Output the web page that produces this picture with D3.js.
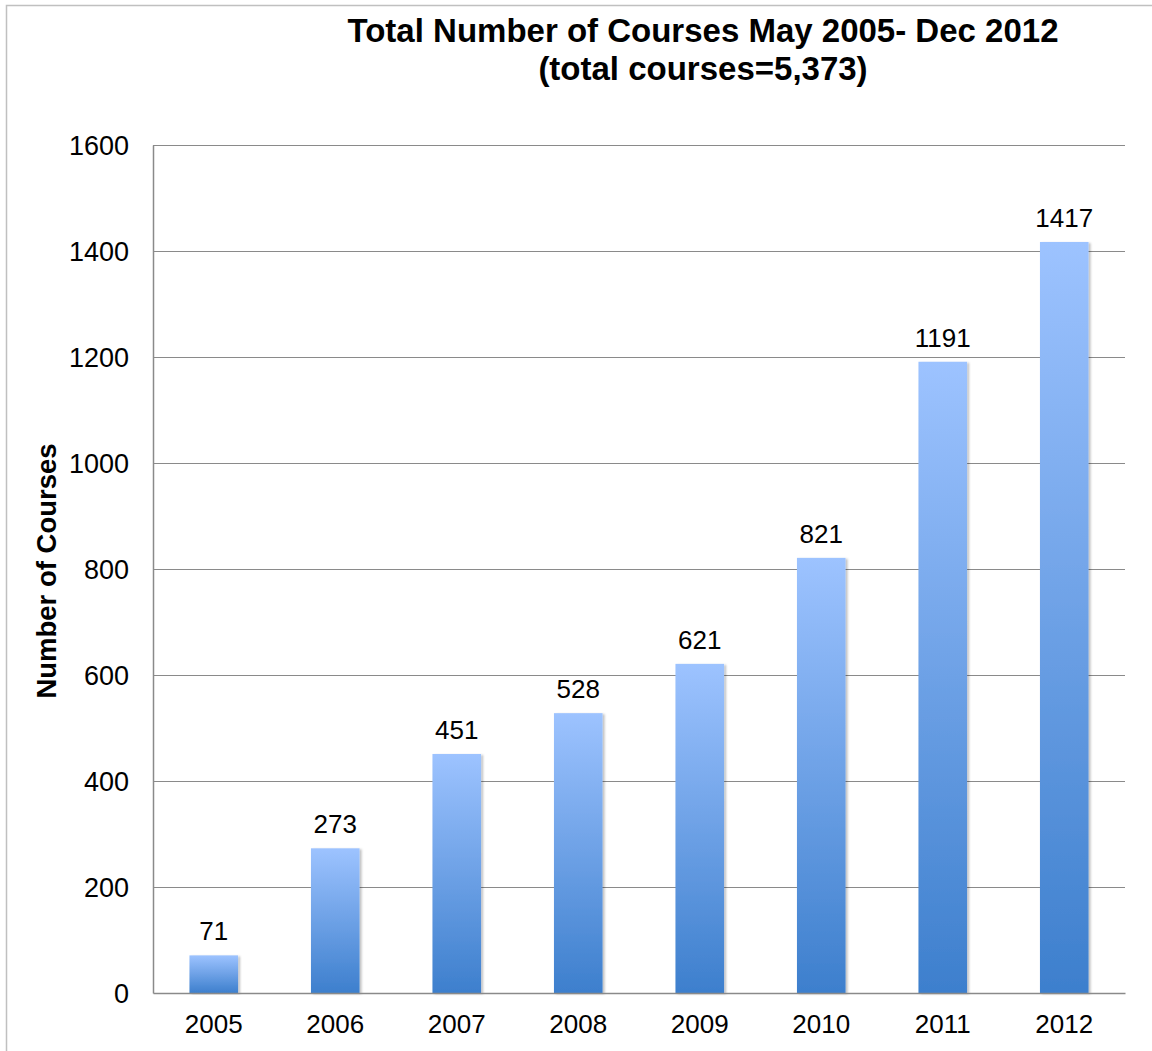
<!DOCTYPE html>
<html><head><meta charset="utf-8">
<script src="https://cdn.jsdelivr.net/npm/d3@7"></script>
<style>body{margin:0;background:#fff}svg{display:block}text{font-family:"Liberation Sans",Arial,sans-serif;fill:#000}</style>
</head><body>
<script>
const years = ["2005","2006","2007","2008","2009","2010","2011","2012"];
const courses = [71,273,451,528,621,821,1191,1417];
const yTicks = [0,200,400,600,800,1000,1200,1400,1600];
const titleLines = ["Total Number of Courses May 2005- Dec 2012","(total courses=5,373)"];
const yLabel = "Number of Courses";

const W=1152,H=1051;
const m={left:153,right:1125,top:145,bottom:993};
const svg=d3.select("body").append("svg").attr("width",W).attr("height",H);
const defs=svg.append("defs");
const g=defs.append("linearGradient").attr("id","bg").attr("x1",0).attr("y1",0).attr("x2",0).attr("y2",1);
g.append("stop").attr("offset","0%").attr("stop-color","#9dc3ff");
g.append("stop").attr("offset","100%").attr("stop-color","#3d7fcd");
const f=defs.append("filter").attr("id","sh").attr("x","-20%").attr("y","-5%").attr("width","150%").attr("height","110%");
f.append("feDropShadow").attr("dx",2).attr("dy",1).attr("stdDeviation",1.2).attr("flood-color","#000").attr("flood-opacity",0.25);

// frame
svg.append("path").attr("d",`M6.5,${H} V5.5 H${W}`).attr("fill","none").attr("stroke","#c0c0c0").attr("stroke-width",1.5);

const x=d3.scaleBand().domain(years).range([m.left,m.right]).paddingInner(0.6).paddingOuter(0.3);
const y=d3.scaleLinear().domain([0,1600]).range([m.bottom,m.top]);

// grid
svg.append("g").selectAll("line").data(yTicks.filter(d=>d>0)).join("line")
 .attr("x1",m.left).attr("x2",m.right).attr("y1",d=>y(d)+0.5).attr("y2",d=>y(d)+0.5)
 .attr("stroke","#8a8a8a").attr("stroke-width",1);

// y axis
const ya=svg.append("g").attr("transform",`translate(${m.left},0)`)
 .call(d3.axisLeft(y).tickValues(yTicks).tickSize(0).tickPadding(24).tickFormat(d3.format("d")));
ya.select(".domain").attr("stroke","#8a8a8a").attr("stroke-width",1.5);
ya.selectAll("text").style("font-size","27px").attr("dy","0.35em");

// bars
svg.append("g").selectAll("rect").data(years).join("rect")
 .attr("x",d=>x(d)).attr("width",x.bandwidth())
 .attr("y",(d,i)=>y(courses[i])).attr("height",(d,i)=>y(0)-y(courses[i]))
 .attr("fill","url(#bg)").attr("filter","url(#sh)");

// x axis
const xa=svg.append("g").attr("transform",`translate(0,${m.bottom})`)
 .call(d3.axisBottom(x).tickSize(0).tickPadding(22));
xa.select(".domain").attr("stroke","#8a8a8a").attr("stroke-width",1.5);
xa.selectAll("text").style("font-size","26px").attr("dy","0.71em");

// value labels
svg.append("g").selectAll("text").data(years).join("text")
 .attr("x",d=>x(d)+x.bandwidth()/2).attr("y",(d,i)=>y(courses[i])-15)
 .attr("text-anchor","middle").style("font-size","26px").text((d,i)=>courses[i]);

// title
svg.append("g").selectAll("text").data(titleLines).join("text")
 .attr("x",703).attr("y",(d,i)=>42+i*38).attr("text-anchor","middle")
 .style("font-size","33px").style("font-weight","bold").text(d=>d);

// y label
svg.append("text").attr("transform","translate(56,571) rotate(-90)").attr("text-anchor","middle")
 .style("font-size","27.5px").style("font-weight","bold").text(yLabel);
</script>
</body></html>
